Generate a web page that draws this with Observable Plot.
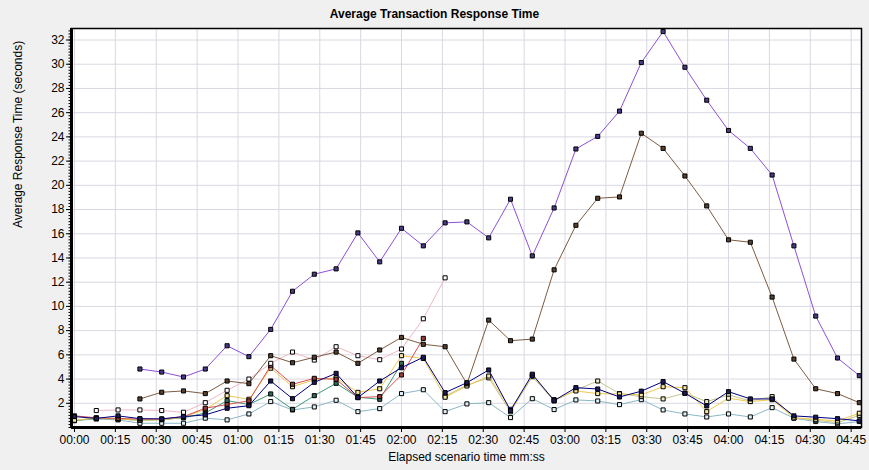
<!DOCTYPE html>
<html><head><meta charset="utf-8">
<script src="https://cdn.jsdelivr.net/npm/d3@7"></script>
<script src="https://cdn.jsdelivr.net/npm/@observablehq/plot@0.6"></script>
<style>html,body{margin:0;padding:0;background:#f0f0f0;overflow:hidden;}</style>
</head><body><div id="chart"></div>
<script>
// elapsed time of each sample (seconds)
const times = [0,8,16,24,32,40,48,56,64,72,80,88,96,104,112,120,128,136,144,152,160,168,176,184,192,200,208,216,224,232,240,248,256,264,272,280,288];
const xTickSeconds = [0,15,30,45,60,75,90,105,120,135,150,165,180,195,210,225,240,255,270,285];
const xTickLabels = ["00:00","00:15","00:30","00:45","01:00","01:15","01:30","01:45","02:00","02:15","02:30","02:45","03:00","03:15","03:30","03:45","04:00","04:15","04:30","04:45"];
const yTicks = [2,4,6,8,10,12,14,16,18,20,22,24,26,28,30,32];

// series values (seconds), null = no sample
const purple = [null,null,null,4.83,4.58,4.17,4.83,6.75,5.85,8.1,11.25,12.66,13.1,16.07,13.68,16.45,15.0,16.9,16.98,15.66,18.85,14.17,18.13,23.0,24.04,26.13,30.14,32.7,29.75,27.03,24.53,23.05,20.85,15.0,9.2,5.74,4.28];
const brown = [null,null,null,2.36,2.91,3.02,2.8,3.84,3.62,5.93,5.35,5.8,6.23,5.3,6.4,7.44,6.87,6.67,3.6,8.87,7.17,7.3,13.02,16.7,18.93,19.04,24.3,23.05,20.77,18.3,15.5,15.3,10.77,5.65,3.2,2.8,2.05];
const navy = [0.9,0.75,0.96,0.73,0.71,0.9,1.04,1.59,1.8,3.84,2.38,3.73,4.47,2.47,3.84,4.94,5.8,2.88,3.7,4.75,1.4,4.4,2.22,3.29,3.18,2.52,3.0,3.79,2.83,1.78,2.96,2.36,2.36,0.96,0.85,0.73,0.55];
const yellow = [0.6,0.77,0.7,0.6,0.65,0.85,1.5,2.63,2.33,4.9,3.37,3.95,4.1,2.9,3.2,5.93,5.7,2.5,3.43,4.25,1.5,4.3,2.3,3.02,2.8,2.77,2.7,3.37,3.29,1.31,2.42,2.14,2.3,0.8,0.68,0.54,1.18];
const khaki = [null,null,null,null,null,null,null,null,null,null,null,null,null,null,null,null,null,2.6,3.5,4.1,1.3,4.2,2.2,3.1,3.84,2.8,2.55,2.36,2.83,2.14,2.69,2.2,2.55,0.8,0.6,0.4,1.0];
const teal = [0.57,0.7,0.63,0.35,0.35,0.35,0.77,0.63,1.12,2.14,1.45,1.7,2.25,1.31,1.56,2.8,3.12,1.31,1.95,2.05,0.82,2.38,1.48,2.28,2.19,1.89,2.3,1.45,1.12,0.87,1.12,0.87,1.64,0.77,0.49,0.3,0.49];
const green = [0.57,0.77,0.7,0.6,0.65,0.8,1.2,2.22,1.9,2.77,1.5,2.63,3.65,2.5,2.33,5.3,null,null,null,null,null,null,null,null,null,null,null,null,null,null,null,null,null,null,null,null,null];
const pink = [null,1.4,1.45,1.45,1.4,1.26,2.05,3.07,4.0,5.3,6.23,5.57,6.67,5.93,5.6,6.48,8.98,12.36,null,null,null,null,null,null,null,null,null,null,null,null,null,null,null,null,null,null,null];
const red = [0.96,0.8,0.75,0.7,0.7,0.9,1.59,1.9,2.2,5.1,3.57,4.06,3.98,2.47,2.55,4.34,7.36,null,null,null,null,null,null,null,null,null,null,null,null,null,null,null,null,null,null,null,null];

// drawing order, with line colour and marker fill
const seriesList = [
  ["teal", teal, "#8ab8c6", "#e4f2f6"],
  ["green", green, "#3d9a78", "#35685a"],
  ["khaki", khaki, "#c4c48c", "#ececcc"],
  ["yellow", yellow, "#f0c850", "#f6e6a0"],
  ["red", red, "#d85050", "#9a3c3c"],
  ["pink", pink, "#f0b8c6", "#ffffff"],
  ["brown", brown, "#7d5c40", "#564030"],
  ["navy", navy, "#000080", "#1a1a5c"],
  ["purple", purple, "#8c50d8", "#4a3a8a"]
];

const fmt = new Map(xTickSeconds.map((s, i) => [s, xTickLabels[i]]));
const minorY = d3.range(0, 33.0, 0.25);

const seriesMarks = [];
for (const [name, vals, lineColor, markFill] of seriesList) {
  const rows = times.map((t, i) => ({t, v: vals[i], s: name})).filter(d => d.v != null);
  seriesMarks.push(Plot.line(rows, {x: "t", y: "v", stroke: lineColor, strokeWidth: 1}));
  seriesMarks.push(Plot.dot(rows, {x: "t", y: "v", symbol: "square", r: 2.3, fill: markFill, stroke: "#000", strokeWidth: 1}));
}

const chart = Plot.plot({
  width: 869,
  height: 470,
  marginLeft: 71,
  marginRight: 8,
  marginTop: 28,
  marginBottom: 43,
  x: {domain: [-1.1, 288.8]},
  y: {domain: [0, 32.95]},
  style: {background: "#f0f0f0", fontFamily: "'Liberation Sans', Arial, sans-serif", fontSize: "12px", color: "#000", overflow: "visible"},
  marks: [
    Plot.frame({fill: "#ffffff"}),
    Plot.ruleX(xTickSeconds, {stroke: "#d8d8e2", strokeWidth: 1}),
    Plot.ruleY(yTicks, {stroke: "#d8d8e2", strokeWidth: 1}),
    ...seriesMarks,
    Plot.frame({stroke: "#000", strokeWidth: 1.5}),
    Plot.ruleX([-1.1], {stroke: "#000", strokeWidth: 3}),
    Plot.ruleY([0], {stroke: "#000", strokeWidth: 3}),
    Plot.axisY({ticks: minorY, tickSize: 2.5, tickFormat: () => "", label: null, strokeWidth: 1}),
    Plot.axisY({ticks: yTicks, tickSize: 5, tickPadding: 2, tickFormat: d => String(d), label: null, fontSize: 12}),
    Plot.axisX({ticks: xTickSeconds, tickSize: 5, tickPadding: 3, tickFormat: d => fmt.get(d), label: null, fontSize: 12}),
    Plot.text(["Average Transaction Response Time"], {frameAnchor: "top", dx: -32, dy: -14, fontWeight: "bold", fontSize: 12, lineAnchor: "middle"}),
    Plot.text(["Average Response Time (seconds)"], {frameAnchor: "left", dx: -53, rotate: -90, fontSize: 12, lineAnchor: "middle"}),
    Plot.text(["Elapsed scenario time mm:ss"], {frameAnchor: "bottom", dy: 30, fontSize: 12, lineAnchor: "middle"})
  ]
});
document.getElementById("chart").append(chart);
</script></body></html>
